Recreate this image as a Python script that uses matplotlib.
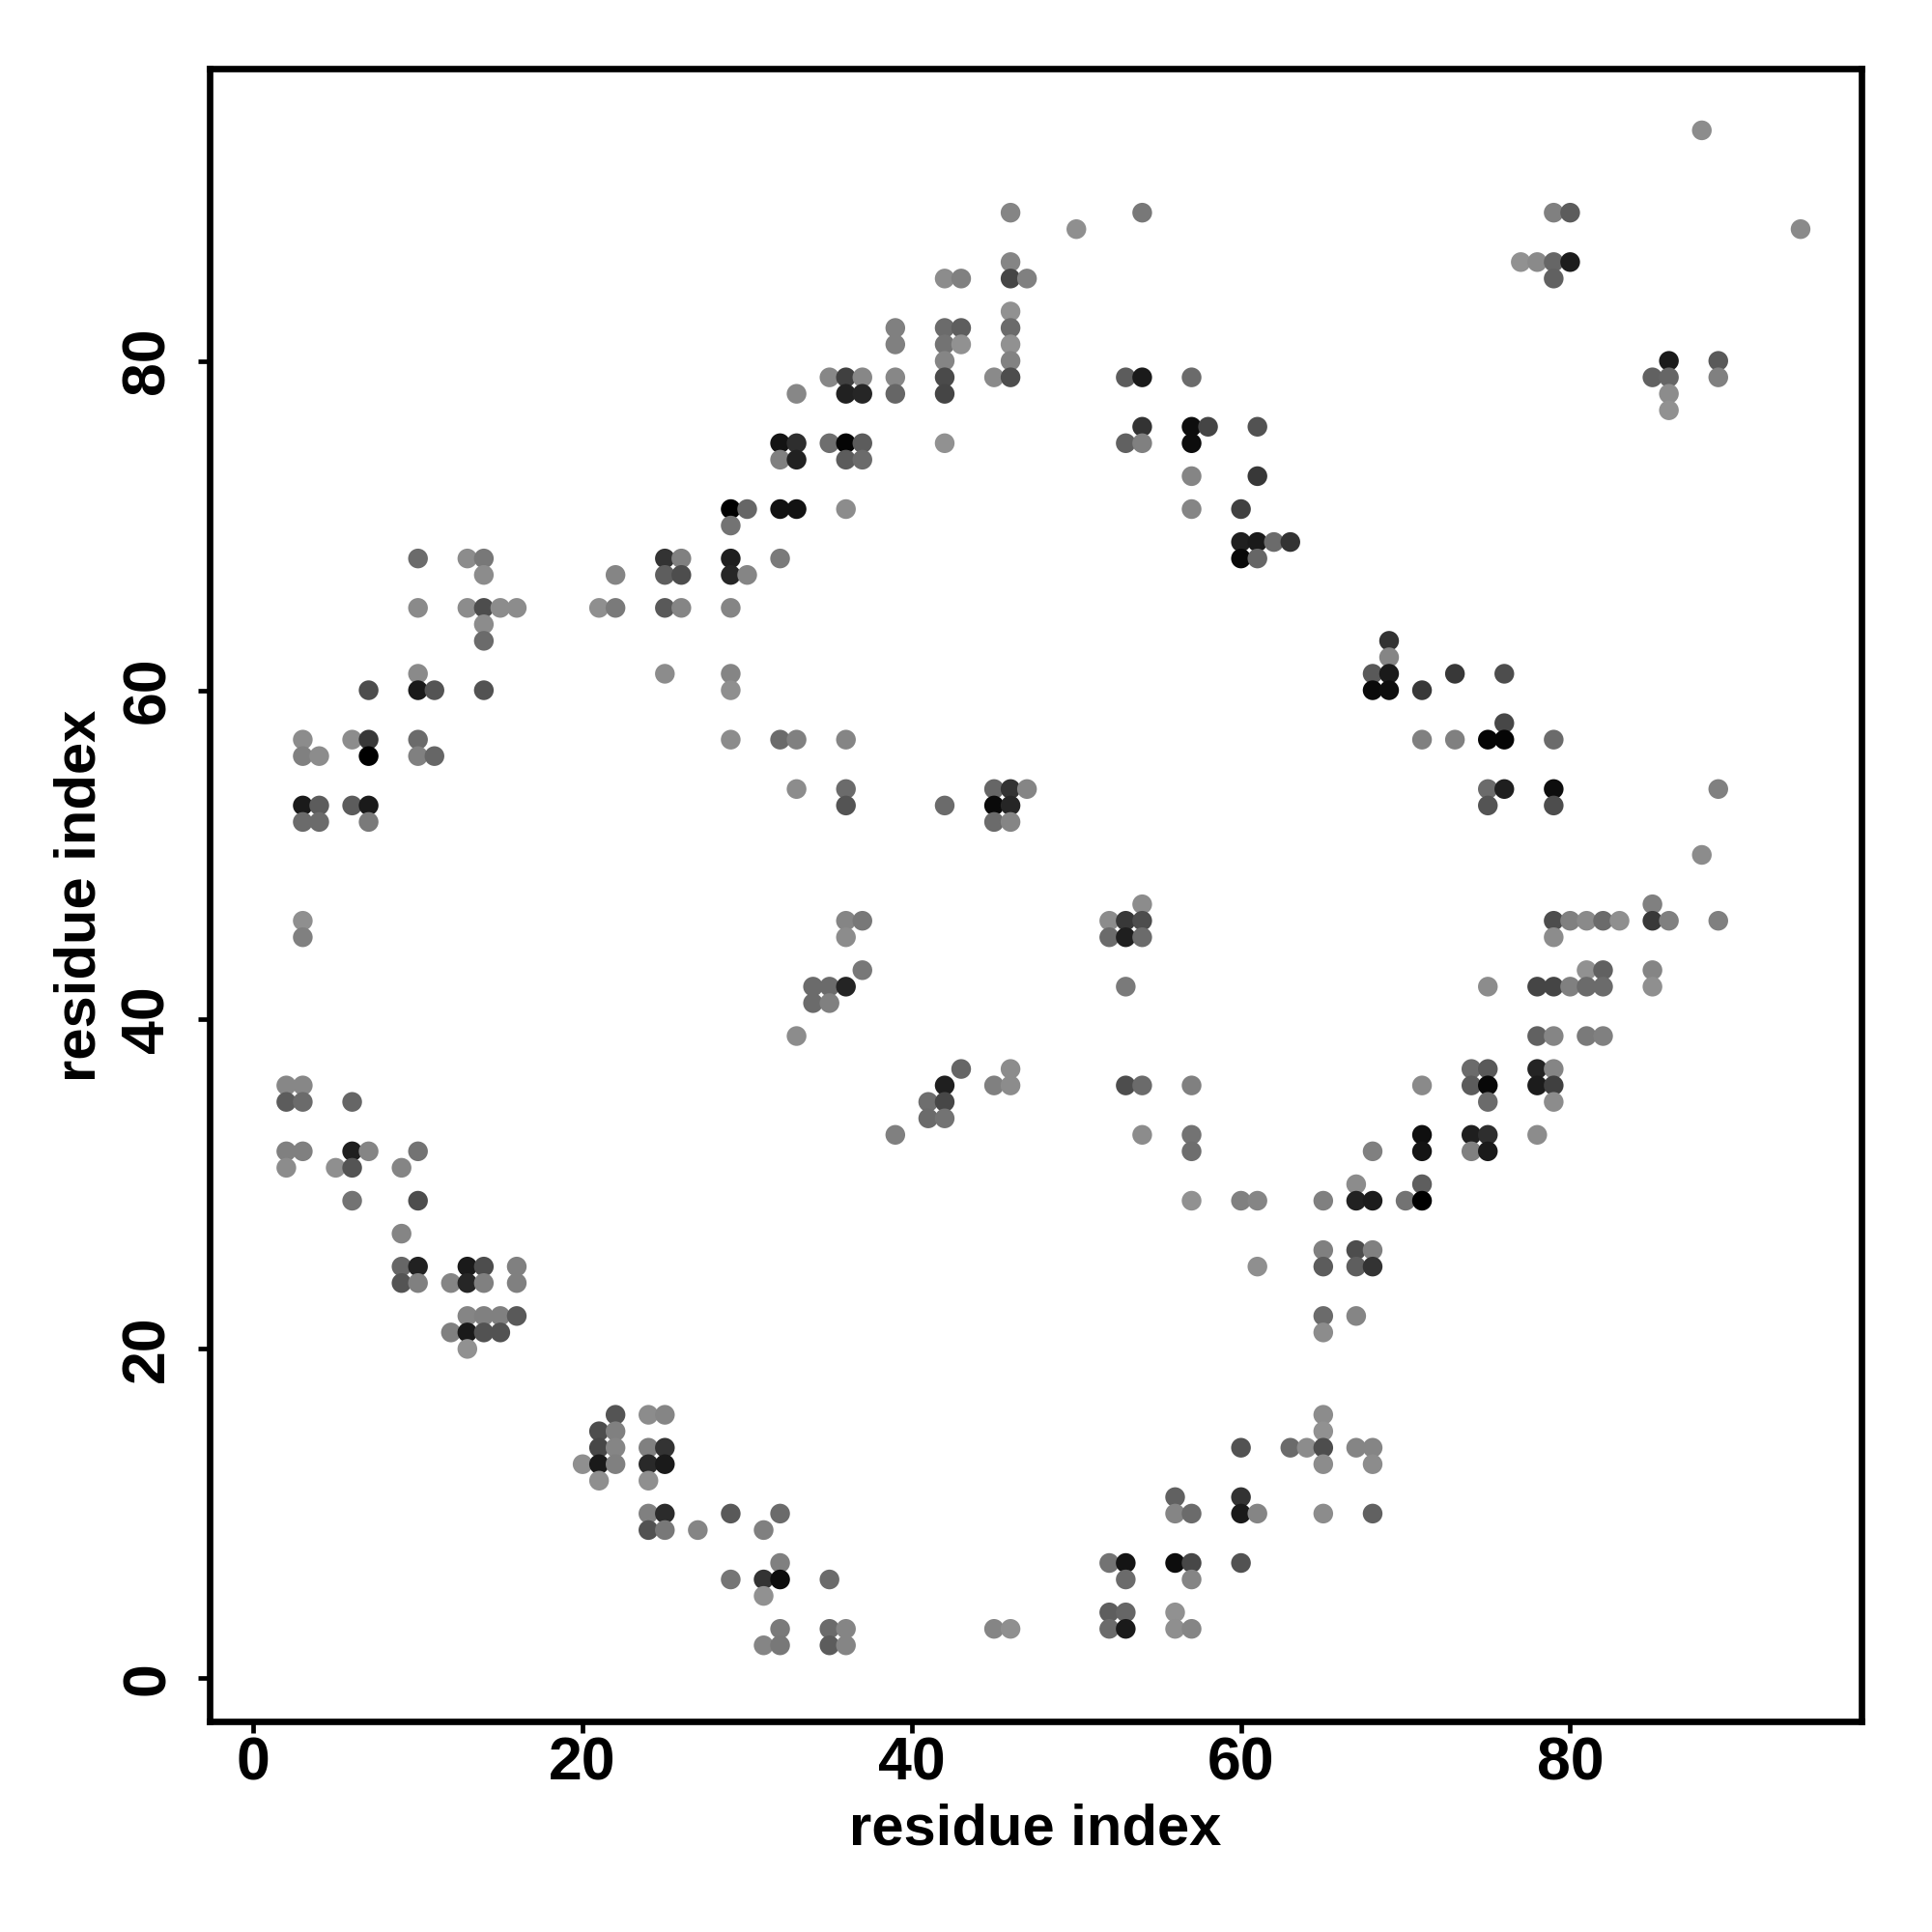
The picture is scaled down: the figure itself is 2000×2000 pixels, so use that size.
import matplotlib
matplotlib.use("Agg")
import matplotlib.pyplot as plt

# y residue of each row, then x residues and gray level of the dots in that row
row_y = [94, 89, 88, 86, 85, 83, 82, 81, 80, 79, 78, 77, 76, 75, 74, 73, 71, 70, 69, 68, 67, 65, 64, 63, 62, 61, 60, 58, 57, 56, 54, 53, 52, 50, 47, 46, 45, 43, 42, 41, 39, 37, 36, 35, 34, 33, 32, 31, 30, 29, 27, 26, 25, 24, 22, 21, 20, 16, 15, 14, 13, 12, 11, 10, 9, 7, 6, 5, 4, 3, 2]
row_x = [
    [88],
    [46, 54, 79, 80],
    [50, 94],
    [46, 77, 78, 79, 80],
    [42, 43, 46, 47, 79],
    [46],
    [39, 42, 43, 46],
    [39, 42, 43, 46],
    [42, 46, 86, 89],
    [35, 36, 37, 39, 42, 45, 46, 53, 54, 57, 85, 86, 89],
    [33, 36, 37, 39, 42, 86],
    [86],
    [54, 57, 58, 61],
    [32, 33, 35, 36, 37, 42, 53, 54, 57],
    [32, 33, 36, 37],
    [57, 61],
    [29, 30, 32, 33, 36, 57, 60],
    [29],
    [60, 61, 62, 63],
    [10, 13, 14, 25, 26, 29, 32, 60, 61],
    [14, 22, 25, 26, 29, 30],
    [10, 13, 14, 15, 16, 21, 22, 25, 26, 29],
    [14],
    [14, 69],
    [69],
    [10, 25, 29, 68, 69, 73, 76],
    [7, 10, 11, 14, 29, 68, 69, 71],
    [76],
    [3, 6, 7, 10, 29, 32, 33, 36, 71, 73, 75, 76, 79],
    [3, 4, 7, 10, 11],
    [33, 36, 45, 46, 47, 75, 76, 79, 89],
    [3, 4, 6, 7, 36, 42, 45, 46, 75, 79],
    [3, 4, 7, 45, 46],
    [88],
    [54, 85],
    [3, 36, 37, 52, 53, 54, 79, 80, 81, 82, 83, 85, 86, 89],
    [3, 36, 52, 53, 54, 79],
    [37, 81, 82, 85],
    [34, 35, 36, 53, 75, 78, 79, 80, 81, 82, 85],
    [34, 35],
    [33, 78, 79, 81, 82],
    [43, 46, 74, 75, 78, 79],
    [2, 3, 42, 45, 46, 53, 54, 57, 71, 74, 75, 78, 79],
    [2, 3, 6, 41, 42, 75, 79],
    [41, 42],
    [39, 54, 57, 71, 74, 75, 78],
    [2, 3, 6, 7, 10, 57, 68, 71, 74, 75],
    [2, 5, 6, 9],
    [67, 71],
    [6, 10, 57, 60, 61, 65, 67, 68, 70, 71],
    [9],
    [65, 67, 68],
    [9, 10, 13, 14, 16, 61, 65, 67, 68],
    [9, 10, 12, 13, 14, 16],
    [13, 14, 15, 16, 65, 67],
    [12, 13, 14, 15, 65],
    [13],
    [22, 24, 25, 65],
    [21, 22, 65],
    [21, 22, 24, 25, 60, 63, 64, 65, 67, 68],
    [20, 21, 22, 24, 25, 65, 68],
    [21, 24],
    [56, 60],
    [24, 25, 29, 32, 56, 57, 60, 61, 65, 68],
    [24, 25, 27, 31],
    [32, 52, 53, 56, 57, 60],
    [29, 31, 32, 35, 53, 57],
    [31],
    [52, 53, 56],
    [32, 35, 36, 45, 46, 52, 53, 56, 57],
    [31, 32, 35, 36],
]
row_gray = [
    [.55],
    [.52, .47, .5, .36],
    [.56, .54],
    [.52, .57, .54, .4, .11],
    [.55, .5, .27, .5, .38],
    [.57],
    [.5, .42, .37, .42],
    [.5, .45, .57, .57],
    [.52, .51, .1, .35],
    [.53, .25, .53, .53, .29, .54, .3, .36, .1, .42, .38, .4, .5],
    [.53, .13, .15, .4, .27, .55],
    [.57],
    [.2, .05, .27, .32],
    [.08, .18, .43, .02, .36, .57, .38, .5, .05],
    [.5, .13, .36, .42],
    [.52, .22],
    [.0, .4, .07, .07, .55, .52, .25],
    [.45],
    [.12, .1, .42, .2],
    [.42, .55, .47, .2, .5, .12, .48, .03, .4],
    [.55, .52, .37, .3, .15, .52],
    [.54, .55, .3, .55, .55, .56, .48, .35, .52, .52],
    [.55],
    [.42, .2],
    [.52],
    [.54, .55, .52, .35, .1, .22, .3],
    [.3, .1, .33, .32, .56, .04, .05, .22],
    [.28],
    [.55, .55, .22, .42, .55, .42, .5, .52, .5, .5, .02, .02, .42],
    [.5, .55, .0, .5, .4],
    [.55, .42, .4, .2, .52, .42, .12, .05, .5],
    [.1, .36, .36, .1, .33, .42, .04, .15, .33, .3],
    [.42, .42, .48, .42, .52],
    [.55],
    [.55, .5],
    [.56, .52, .47, .55, .22, .3, .3, .5, .54, .42, .56, .22, .5, .5],
    [.5, .55, .42, .12, .42, .55],
    [.47, .57, .38, .52],
    [.42, .42, .14, .48, .55, .27, .27, .5, .42, .42, .56],
    [.42, .5],
    [.55, .38, .52, .48, .5],
    [.4, .55, .42, .35, .14, .52],
    [.53, .53, .12, .5, .55, .3, .42, .5, .54, .36, .03, .11, .25],
    [.36, .42, .4, .43, .28, .42, .55],
    [.42, .45],
    [.5, .55, .45, .06, .12, .18, .55],
    [.5, .5, .12, .52, .45, .43, .5, .08, .5, .1],
    [.55, .56, .33, .52],
    [.55, .37],
    [.45, .3, .57, .5, .52, .5, .13, .11, .45, .0],
    [.52],
    [.5, .3, .5],
    [.4, .13, .1, .3, .5, .56, .36, .37, .2],
    [.33, .5, .52, .15, .5, .5],
    [.52, .5, .5, .35, .42, .52],
    [.5, .1, .32, .32, .55],
    [.57],
    [.33, .55, .52, .55],
    [.3, .5, .57],
    [.28, .52, .5, .2, .32, .42, .55, .3, .52, .52],
    [.56, .1, .5, .16, .1, .55, .55],
    [.56, .56],
    [.38, .2],
    [.5, .17, .35, .42, .52, .42, .1, .52, .55, .38],
    [.32, .47, .52, .5],
    [.5, .45, .08, .05, .28, .32],
    [.46, .2, .05, .42, .42, .52],
    [.57],
    [.37, .4, .57],
    [.48, .42, .52, .52, .56, .42, .1, .56, .52],
    [.52, .47, .36, .52],
]

contact_x, contact_y, contact_gray = [], [], []
for y, xs, grays in zip(row_y, row_x, row_gray):
    for x, g in zip(xs, grays):
        contact_x.append(x)
        contact_y.append(y)
        contact_gray.append(str(g))

tick_vals = [0, 20, 40, 60, 80]

plt.rcParams["font.family"] = ["Liberation Sans", "DejaVu Sans"]
plt.rcParams["font.weight"] = "bold"

fig = plt.figure(figsize=(10, 10), dpi=200, facecolor="white")
ax = fig.add_axes([0.1085, 0.109, 0.855, 0.8555])

ax.scatter(contact_x, contact_y, s=54, c=contact_gray, linewidths=0, zorder=3)

ax.set_xlim(-2.66, 97.7)
ax.set_ylim(-2.62, 97.75)
ax.set_xticks(tick_vals)
ax.set_yticks(tick_vals)
ax.tick_params(axis="both", length=4.3, width=1.7, labelsize=22.5, color="black")
ax.tick_params(axis="x", pad=1)
ax.tick_params(axis="y", pad=8)
for lab in ax.get_yticklabels():
    lab.set_rotation(90)
    lab.set_va("center")
ax.spines[:].set_linewidth(2.4)

fig.text(0.536, 0.0455, "residue index", ha="center", va="baseline", fontsize=21.5, fontweight="bold")
fig.text(0.0415, 0.5365, "residue index", ha="center", va="center", rotation=90, fontsize=21.5, fontweight="bold")

fig.savefig("out.png", dpi=200, facecolor="white")
plt.close(fig)
